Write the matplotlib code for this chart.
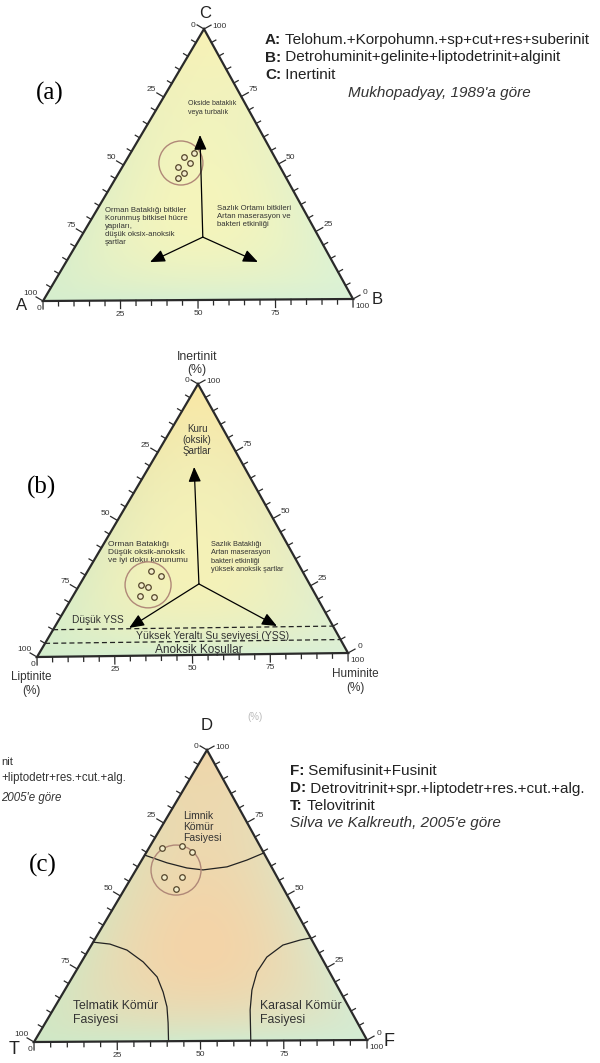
import numpy as np
import matplotlib.pyplot as plt
from matplotlib.patches import Polygon, Circle

plt.rcParams['font.family'] = ['Liberation Sans', 'DejaVu Sans']

# --- ternary data in % : (right corner, top corner); left corner = 100 - right - top ---
# (a) Mukhopadyay: B (sağ), C (üst)
a_samples_B = [18.1, 20.5, 21.2, 18.0, 21.1, 20.1]
a_samples_C = [52.8, 54.3, 50.6, 49.1, 46.9, 45.1]
a_group = (18.2, 50.6)
a_arrow_start = (39.5, 23.2)
a_arrow_end_B = [19.0, 27.2, 62.1]
a_arrow_end_C = [60.9, 14.1, 13.9]

# (b) Huminite (sağ), Inertinit (üst)
b_samples_B = [20.5, 24.7, 19.9, 22.6, 21.7, 26.4]
b_samples_C = [31.2, 29.3, 26.1, 25.3, 22.0, 21.6]
b_group = (22.2, 26.1)
b_arrow_start = (38.5, 26.2)
b_arrow_end_B = [14.6, 24.3, 71.8]
b_arrow_end_C = [69.4, 10.3, 10.3]
b_levels = [10, 5]  # Inertinit %, YSS sınırları

# (c) Silva & Kalkreuth: F (sağ), D (üst)
c_samples_B = [3.9, 9.6, 13.7, 9.7, 15.1, 15.5]
c_samples_C = [66.4, 67.1, 65.0, 56.4, 56.4, 52.3]
c_group = (12.1, 58.8)
c_limnic_B = [0.0, 8.1, 15.0, 20.2, 26.9, 31.7, 35.5]
c_limnic_C = [64.0, 61.3, 59.5, 58.8, 59.8, 62.1, 64.5]
c_telmatic_B = [0.0, 5.4, 11.6, 18.6, 25.5, 30.0, 33.8, 37.0, 40.4]
c_telmatic_C = [34.2, 33.5, 31.4, 27.3, 22.1, 16.9, 11.8, 6.3, 0.0]
c_terr_B = [64.8, 62.0, 57.7, 55.0, 54.7, 56.4, 59.4, 65.1]
c_terr_C = [35.2, 34.5, 32.8, 28.7, 23.6, 17.4, 10.6, 0.0]

tick_values = list(range(0, 101, 5))
major_ticks = [0, 25, 50, 75, 100]

# triangle corners in figure pixels (left, right, top)
TRI_A = [(43, 301), (353, 299), (204, 29)]
TRI_B = [(37, 657), (348, 653), (198, 384)]
TRI_C = [(34, 1042), (367, 1040), (207, 750)]

fig = plt.figure(figsize=(6, 10.63), dpi=100)
ax = fig.add_axes([0, 0, 1, 1])


def tern_xy(tri, right, top):
    V = np.asarray(tri, float)
    r = np.asarray(right, float) / 100
    t = np.asarray(top, float) / 100
    l = 1 - r - t
    return l * V[0, 0] + r * V[1, 0] + t * V[2, 0], l * V[0, 1] + r * V[1, 1] + t * V[2, 1]


def fill_grad(tri, cl, cr, ct, cm, k):
    V = np.asarray(tri, float)
    x0, x1 = V[:, 0].min(), V[:, 0].max()
    y0, y1 = V[:, 1].min(), V[:, 1].max()
    X, Y = np.meshgrid(np.linspace(x0, x1, 240), np.linspace(y0, y1, 240))
    M = np.array([[V[1, 0] - V[0, 0], V[2, 0] - V[0, 0]],
                  [V[1, 1] - V[0, 1], V[2, 1] - V[0, 1]]])
    inv = np.linalg.inv(M)
    dx, dy = X - V[0, 0], Y - V[0, 1]
    b = np.clip(inv[0, 0] * dx + inv[0, 1] * dy, 0, 1)
    c = np.clip(inv[1, 0] * dx + inv[1, 1] * dy, 0, 1)
    a = np.clip(1 - b - c, 0, 1)
    s = a + b + c
    a, b, c = a / s, b / s, c / s
    col = (a[..., None] * np.array(cl) + b[..., None] * np.array(cr)
           + c[..., None] * np.array(ct))
    mix = np.clip(27 * a * b * c * k, 0, 1)[..., None]
    col = col * (1 - mix) + np.array(cm) * mix
    im = ax.imshow(col / 255, extent=(x0, x1, y1, y0), origin='upper',
                   aspect='auto', interpolation='bilinear', zorder=0)
    im.set_clip_path(Polygon(V, closed=True, transform=ax.transData))


def frame(tri, fs=6):
    V = np.asarray(tri, float)
    cen = V.mean(axis=0)
    ax.add_patch(Polygon(V, closed=True, fill=False, ec='#2a2a2a', lw=1.6, zorder=3))
    # left: top->left, right: right->top, bottom: left->right
    for i, (p0, p1) in enumerate([(V[2], V[0]), (V[1], V[2]), (V[0], V[1])]):
        d = p1 - p0
        n = np.array([d[1], -d[0]])
        n /= np.linalg.norm(n)
        if np.dot(n, (p0 + p1) / 2 - cen) < 0:
            n = -n
        for v in tick_values:
            p = p0 + d * v / 100
            L = 8 if v in major_ticks else 5
            e = p + n * L
            ax.plot([p[0], e[0]], [p[1], e[1]], color='#2a2a2a', lw=0.9, zorder=3)
            if v not in major_ticks:
                continue
            if i == 2 and v == 0:
                ax.text(e[0] - 2, e[1], '0', fontsize=fs, color='#333333',
                        ha='right', va='center')
            elif i == 2 and v == 100:
                ax.text(e[0] + 2, e[1], '100', fontsize=fs, color='#333333',
                        ha='left', va='center')
            elif (i == 0 and v == 0) or (i == 1 and v == 100):
                # labels at the apex sit closer to the corner
                q = p + n * (L + 2) + np.array([0, 2])
                ax.text(q[0], q[1], str(v), fontsize=fs, color='#333333',
                        ha='right' if i == 0 else 'left', va='center')
            else:
                q = p + n * (L + 6)
                ax.text(q[0], q[1], str(v), fontsize=fs, color='#333333',
                        ha='center', va='center')


def samples(tri, bs, cs, group, r):
    gx, gy = tern_xy(tri, *group)
    ax.add_patch(Circle((gx, gy), r, fill=False, ec='#b08878', lw=1.0, zorder=4))
    x, y = tern_xy(tri, bs, cs)
    ax.scatter(x, y, s=16, facecolor='#f2eccb', edgecolor='#55462c', lw=0.9, zorder=5)


def arrows(tri, start, ends_b, ends_c):
    sx, sy = tern_xy(tri, *start)
    ex, ey = tern_xy(tri, ends_b, ends_c)
    for x, y in zip(ex, ey):
        ax.annotate('', xy=(x, y), xytext=(sx, sy),
                    arrowprops=dict(arrowstyle='-|>,head_length=0.9,head_width=0.38',
                                    color='black', lw=0.9, shrinkA=0, shrinkB=0,
                                    mutation_scale=10), zorder=4)


def legend(x, y0, dy, rows, fs=11):
    for i, (key, txt) in enumerate(rows):
        t = ax.text(x, y0 + i * dy, key + ':', fontsize=fs, fontweight='bold',
                    color='#222222', va='center', ha='left')
        ax.annotate(' ' + txt, xy=(1, 0), xycoords=t, va='bottom', ha='left',
                    fontsize=fs, color='#222222')


serif = ['Liberation Serif', 'DejaVu Serif']

# ---------------- (a) ----------------
fill_grad(TRI_A, (214, 238, 206), (218, 242, 214), (248, 242, 182), (247, 245, 186), 0.9)
frame(TRI_A)
samples(TRI_A, a_samples_B, a_samples_C, a_group, 22)
arrows(TRI_A, a_arrow_start, a_arrow_end_B, a_arrow_end_C)
ax.text(205, 13, 'C', fontsize=12, ha='center', va='center', color='#222')
ax.text(22, 306, 'A', fontsize=12, ha='center', va='center', color='#222')
ax.text(377, 299, 'B', fontsize=12, ha='center', va='center', color='#222')
ax.text(50, 93, '(a)', fontsize=18, family=serif, ha='center', va='center')
legend(265, 40, 17.5, [('A', 'Telohum.+Korpohumn.+sp+cut+res+suberinit'),
                       ('B', 'Detrohuminit+gelinite+liptodetrinit+alginit'),
                       ('C', 'Inertinit')])
ax.text(348, 93, "Mukhopadyay, 1989'a göre", fontsize=11, style='italic',
        color='#333', va='center')
ax.text(188, 108, 'Okside bataklık\nveya turbalık', fontsize=5, va='center',
        linespacing=1.3, color='#333')
ax.text(105, 226, 'Orman Bataklığı bitkiler\nKorunmuş bitkisel hücre\nyapıları,\n'
        'düşük oksix-anoksik\nşartlar', fontsize=5.6, va='center', linespacing=1.2,
        color='#333')
ax.text(217, 217, 'Sazlık Ortamı bitkileri\nArtan maserasyon ve\nbakteri etkinliği',
        fontsize=5.6, va='center', linespacing=1.2, color='#333')

# ---------------- (b) ----------------
fill_grad(TRI_B, (212, 238, 206), (220, 240, 214), (250, 232, 165), (247, 242, 182), 0.9)
for v in b_levels:
    lx, ly = tern_xy(TRI_B, [0, 100 - v], [v, v])
    ax.plot(lx, ly, color='#222', lw=0.9, ls=(0, (4, 2.5)), zorder=3)
frame(TRI_B)
samples(TRI_B, b_samples_B, b_samples_C, b_group, 23)
arrows(TRI_B, b_arrow_start, b_arrow_end_B, b_arrow_end_C)
ax.text(197, 357, 'Inertinit', fontsize=8.8, ha='center', va='center', color='#333')
ax.text(197, 370, '(%)', fontsize=8.8, ha='center', va='center', color='#333')
ax.text(31, 684, 'Liptinite\n(%)', fontsize=8.5, ha='center', va='center',
        linespacing=1.3, color='#333')
ax.text(355, 681, 'Huminite\n(%)', fontsize=8.5, ha='center', va='center',
        linespacing=1.3, color='#333')
ax.text(42, 487, '(b)', fontsize=18, family=serif, ha='center', va='center')
ax.text(197, 440, 'Kuru\n(oksik)\nŞartlar', fontsize=7, ha='center', va='center',
        linespacing=1.15, color='#333')
ax.text(108, 552, 'Orman Bataklığı\nDüşük oksik-anoksik\nve iyi doku korunumu',
        fontsize=6, va='center', linespacing=1.2, color='#333')
ax.text(211, 557, 'Sazlık Bataklığı\nArtan maserasyon\nbakteri etkinliği\nyüksek anoksik şartlar',
        fontsize=5.3, va='center', linespacing=1.3, color='#333')
ax.text(72, 620, 'Düşük YSS', fontsize=7.3, va='center', color='#333')
ax.text(213, 636, 'Yüksek Yeraltı Su seviyesi (YSS)', fontsize=7.5, ha='center',
        va='center', color='#333')
ax.text(199, 650, 'Anoksik Koşullar', fontsize=8.6, ha='center', va='center', color='#333')

# ---------------- (c) ----------------
fill_grad(TRI_C, (208, 232, 198), (212, 236, 212), (240, 214, 170), (244, 212, 168), 1.0)
for bs, cs in [(c_limnic_B, c_limnic_C), (c_telmatic_B, c_telmatic_C), (c_terr_B, c_terr_C)]:
    cx, cy = tern_xy(TRI_C, bs, cs)
    ax.plot(cx, cy, color='#222', lw=0.9, zorder=3)
frame(TRI_C)
samples(TRI_C, c_samples_B, c_samples_C, c_group, 25)
ax.text(207, 725, 'D', fontsize=12, ha='center', va='center', color='#222')
ax.text(14, 1049, 'T', fontsize=13, ha='center', va='center', color='#222')
ax.text(389, 1042, 'F', fontsize=13, ha='center', va='center', color='#222')
ax.text(255, 717, '(%)', fontsize=7, ha='center', va='center', color='#bbbbbb')
ax.text(43, 865, '(c)', fontsize=18, family=serif, ha='center', va='center')
legend(290, 771, 17.5, [('F', 'Semifusinit+Fusinit'),
                        ('D', 'Detrovitrinit+spr.+liptodetr+res.+cut.+alg.'),
                        ('T', 'Telovitrinit')])
ax.text(290, 823, "Silva ve Kalkreuth, 2005'e göre", fontsize=11, style='italic',
        color='#333', va='center')
# visible tail of a second, cropped copy of the legend at the left edge
ax.text(1, 762, 'nit', fontsize=8, ha='left', va='center', color='#333')
ax.text(1, 778, '+liptodetr+res.+cut.+alg.', fontsize=8.3, ha='left', va='center',
        color='#333')
ax.text(1, 798, "2005'e göre", fontsize=8.3, style='italic', ha='left', va='center',
        color='#333')
ax.text(183, 827, 'Limnik\nKömür\nFasiyesi', fontsize=7.5, va='center',
        linespacing=1.1, color='#333')
ax.text(73, 1013, 'Telmatik Kömür\nFasiyesi', fontsize=8.8, va='center',
        linespacing=1.3, color='#333')
ax.text(260, 1013, 'Karasal Kömür\nFasiyesi', fontsize=8.8, va='center',
        linespacing=1.3, color='#333')

ax.set_xlim(0, 600)
ax.set_ylim(1063, 0)
ax.axis('off')
fig.savefig('out.png', dpi=100, facecolor='white')
